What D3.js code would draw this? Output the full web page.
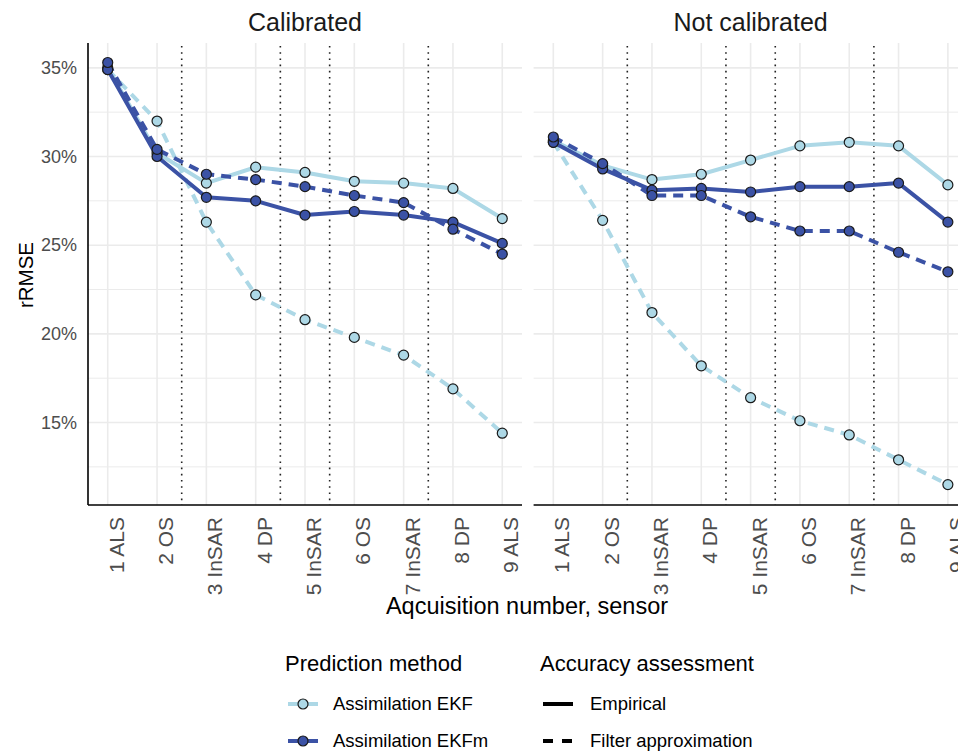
<!DOCTYPE html>
<html>
<head>
<meta charset="utf-8">
<script src="https://cdn.jsdelivr.net/npm/d3@7"></script>
<style>
  html, body { margin: 0; padding: 0; background: #fff; overflow: hidden; }
  text { font-family: "Liberation Sans", Arial, sans-serif; }
</style>
</head>
<body>
<svg id="chart" width="958" height="753"></svg>
<script>
// ---------------- data ----------------
const categories = ["1 ALS","2 OS","3 InSAR","4 DP","5 InSAR","6 OS","7 InSAR","8 DP","9 ALS"];
const panels = ["Calibrated", "Not calibrated"];
const dividers = [2.5, 4.5, 5.5, 7.5];
const yTicks = [15, 20, 25, 30, 35];
const yMinor = [12.5, 17.5, 22.5, 27.5, 32.5];

// Calibrated
const calEKFEmp   = [35.0, 30.2, 28.5, 29.4, 29.1, 28.6, 28.5, 28.2, 26.5];
const calEKFFilt  = [34.9, 32.0, 26.3, 22.2, 20.8, 19.8, 18.8, 16.9, 14.4];
const calEKFmEmp  = [34.9, 30.0, 27.7, 27.5, 26.7, 26.9, 26.7, 26.3, 25.1];
const calEKFmFilt = [35.3, 30.4, 29.0, 28.7, 28.3, 27.8, 27.4, 25.9, 24.5];
// Not calibrated
const ncEKFEmp    = [30.9, 29.5, 28.7, 29.0, 29.8, 30.6, 30.8, 30.6, 28.4];
const ncEKFFilt   = [30.8, 26.4, 21.2, 18.2, 16.4, 15.1, 14.3, 12.9, 11.5];
const ncEKFmEmp   = [30.8, 29.3, 28.1, 28.2, 28.0, 28.3, 28.3, 28.5, 26.3];
const ncEKFmFilt  = [31.1, 29.6, 27.8, 27.8, 26.6, 25.8, 25.8, 24.6, 23.5];

const methods = ["Assimilation EKF", "Assimilation EKFm"];
const assessments = ["Empirical", "Filter approximation"];
const colors = { "Assimilation EKF": "#ADD8E6", "Assimilation EKFm": "#3B52A5" };
const dashes = { "Empirical": null, "Filter approximation": "10,7" };

const seriesByPanel = {
  "Calibrated": [
    { method: methods[0], assess: assessments[0], values: calEKFEmp },
    { method: methods[0], assess: assessments[1], values: calEKFFilt },
    { method: methods[1], assess: assessments[0], values: calEKFmEmp },
    { method: methods[1], assess: assessments[1], values: calEKFmFilt }
  ],
  "Not calibrated": [
    { method: methods[0], assess: assessments[0], values: ncEKFEmp },
    { method: methods[0], assess: assessments[1], values: ncEKFFilt },
    { method: methods[1], assess: assessments[0], values: ncEKFmEmp },
    { method: methods[1], assess: assessments[1], values: ncEKFmFilt }
  ]
};

// ---------------- layout ----------------
const svg = d3.select("#chart");
const yTop = 43, yBottom = 505;
const panelX = { "Calibrated": [88, 522], "Not calibrated": [533.6, 967.6] };
const y = d3.scaleLinear().domain([10.35, 36.4]).range([yBottom, yTop]);
const tickGrey = "#4D4D4D";

panels.forEach(p => {
  const [x0, x1] = panelX[p];
  const pad = (x1 - x0) * 0.4 / 8.8;
  const x = d3.scaleLinear().domain([1, 9]).range([x0 + pad, x1 - pad]);
  const g = svg.append("g");

  // grid
  g.selectAll(".ymin").data(yMinor).join("line")
    .attr("x1", x0).attr("x2", x1).attr("y1", d => y(d)).attr("y2", d => y(d))
    .attr("stroke", "#EBEBEB").attr("stroke-width", 1);
  g.selectAll(".ymaj").data(yTicks).join("line")
    .attr("x1", x0).attr("x2", x1).attr("y1", d => y(d)).attr("y2", d => y(d))
    .attr("stroke", "#EBEBEB").attr("stroke-width", 1.6);
  g.selectAll(".xmaj").data(d3.range(1, 10)).join("line")
    .attr("x1", d => x(d)).attr("x2", d => x(d)).attr("y1", yTop).attr("y2", yBottom)
    .attr("stroke", "#EBEBEB").attr("stroke-width", 1.6);

  // dotted dividers
  g.selectAll(".div").data(dividers).join("line")
    .attr("x1", d => x(d)).attr("x2", d => x(d)).attr("y1", yTop + 3).attr("y2", yBottom)
    .attr("stroke", "#222").attr("stroke-width", 1.6)
    .attr("stroke-dasharray", "1.6,4.6");

  // strip title
  svg.append("text").attr("x", (x0 + x1) / 2).attr("y", 31)
    .attr("text-anchor", "middle").attr("font-size", 25).attr("fill", "#1A1A1A").text(p);

  // lines
  const line = d3.line().x((d, i) => x(i + 1)).y(d => y(d));
  const series = seriesByPanel[p];
  series.forEach(s => {
    g.append("path").attr("d", line(s.values))
      .attr("fill", "none").attr("stroke", colors[s.method])
      .attr("stroke-width", 4).attr("stroke-linejoin", "round")
      .attr("stroke-dasharray", dashes[s.assess]);
  });
  series.forEach(s => {
    g.selectAll(null).data(s.values).join("circle")
      .attr("cx", (d, i) => x(i + 1)).attr("cy", d => y(d)).attr("r", 5)
      .attr("fill", colors[s.method]).attr("stroke", "#1A1A1A").attr("stroke-width", 1.2);
  });

  // x axis line
  g.append("line").attr("x1", x0).attr("x2", x1).attr("y1", yBottom).attr("y2", yBottom)
    .attr("stroke", "#000").attr("stroke-width", 1.6);

  // x tick labels (rotated, top-aligned to the tick)
  g.selectAll(".xl").data(categories).join("text")
    .attr("transform", (d, i) => `translate(${x(i + 1) + 16},${yBottom + 12}) rotate(-90)`)
    .attr("text-anchor", "end")
    .attr("font-size", 21).attr("fill", tickGrey).text(d => d);

  if (p === "Calibrated") {
    g.append("line").attr("x1", x0).attr("x2", x0).attr("y1", yTop).attr("y2", yBottom)
      .attr("stroke", "#000").attr("stroke-width", 1.6);
    g.selectAll(".yl").data(yTicks).join("text")
      .attr("x", x0 - 11).attr("y", d => y(d)).attr("dy", "0.35em")
      .attr("text-anchor", "end").attr("font-size", 18).attr("fill", tickGrey)
      .text(d => d3.format(".0f")(d) + "%");
  }
});

// axis titles
svg.append("text").attr("x", 527).attr("y", 614).attr("text-anchor", "middle")
  .attr("font-size", 23.5).attr("fill", "#000").text("Aqcuisition number, sensor");
svg.append("text").attr("transform", "translate(33,275) rotate(-90)")
  .attr("text-anchor", "middle").attr("font-size", 20.5).attr("fill", "#000").text("rRMSE");

// legends
const leg1 = svg.append("g").attr("transform", "translate(285,0)");
leg1.append("text").attr("x", 0).attr("y", 671).attr("font-size", 22).attr("fill", "#000").text("Prediction method");
methods.forEach((m, i) => {
  const cy = 704 + i * 37;
  leg1.append("line").attr("x1", 3).attr("x2", 33).attr("y1", cy).attr("y2", cy)
    .attr("stroke", colors[m]).attr("stroke-width", 4);
  leg1.append("circle").attr("cx", 18).attr("cy", cy).attr("r", 5)
    .attr("fill", colors[m]).attr("stroke", "#1A1A1A").attr("stroke-width", 1.2);
  leg1.append("text").attr("x", 48).attr("y", cy).attr("dy", "0.35em")
    .attr("font-size", 18.5).attr("fill", "#000").text(m);
});

const leg2 = svg.append("g").attr("transform", "translate(540,0)");
leg2.append("text").attr("x", 0).attr("y", 671).attr("font-size", 22).attr("fill", "#000").text("Accuracy assessment");
assessments.forEach((a, i) => {
  const cy = 704 + i * 37;
  leg2.append("line").attr("x1", 3).attr("x2", 33).attr("y1", cy).attr("y2", cy)
    .attr("stroke", "#000").attr("stroke-width", 4)
    .attr("stroke-dasharray", a === "Empirical" ? null : "10,9");
  leg2.append("text").attr("x", 50).attr("y", cy).attr("dy", "0.35em")
    .attr("font-size", 18.5).attr("fill", "#000").text(a);
});
</script>
</body>
</html>
